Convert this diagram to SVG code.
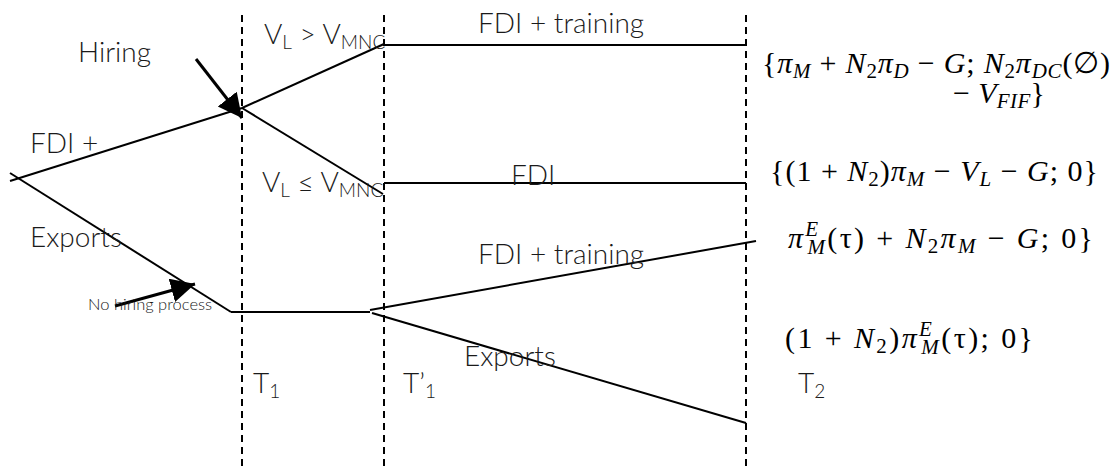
<svg xmlns="http://www.w3.org/2000/svg" width="1116" height="471" viewBox="0 0 1116 471">
<style>
.bg{fill:#ffffff}
.dash{stroke:#000;stroke-width:2;stroke-dasharray:7 5;fill:none}
.ln{stroke:#000;stroke-width:2;fill:none}
.arr{stroke:#000;stroke-width:3;fill:none}
.lbl{font-family:Lato,"Open Sans","Liberation Sans",sans-serif;font-weight:300;font-size:28px;fill:#1a1a1a}
.sm{font-size:16.5px}
.sub{font-size:19px}
.math{font-family:"Liberation Serif","DejaVu Serif",serif;font-size:30px;fill:#000}
.it{font-style:italic}
.ms{font-size:21px;font-style:italic}
.up{font-style:normal}
</style>
<defs>
<marker id="ah" markerUnits="userSpaceOnUse" markerWidth="26" markerHeight="26" refX="24" refY="12" orient="auto" viewBox="0 0 26 26">
<path d="M0,0 L24,12 L0,24 Z" fill="#000"/>
</marker>
</defs>
<rect class="bg" x="0" y="0" width="1116" height="471"/>
<g id="time-lines">
<line class="dash" x1="242" y1="15" x2="242" y2="468"/>
<line class="dash" x1="384" y1="15" x2="384" y2="468"/>
<line class="dash" x1="746" y1="15" x2="746" y2="468"/>
</g>
<g id="connectors">
<line class="ln" x1="10" y1="181" x2="242" y2="108"/>
<line class="ln" x1="10" y1="173" x2="231" y2="312"/>
<line class="ln" x1="242" y1="108" x2="384" y2="44"/>
<line class="ln" x1="384" y1="45" x2="746" y2="45"/>
<line class="ln" x1="242" y1="108" x2="383" y2="194"/>
<line class="ln" x1="384" y1="183" x2="746" y2="183"/>
<line class="ln" x1="231" y1="312" x2="370" y2="312"/>
<line class="ln" x1="370" y1="310" x2="756" y2="241"/>
<line class="ln" x1="372" y1="313" x2="746" y2="423"/>
<line class="arr" x1="196" y1="59" x2="242" y2="118" marker-end="url(#ah)"/>
<line class="arr" x1="115" y1="306" x2="195" y2="284" marker-end="url(#ah)"/>
</g>
<g id="labels-left">
<text class="lbl" x="78" y="62">Hiring</text>
<text class="lbl" x="30" y="153">FDI +</text>
<text class="lbl" x="30" y="247">Exports</text>
<text class="lbl sm" x="88" y="310">No hiring process</text>
</g>
<g id="labels-mid">
<text class="lbl" x="264" y="44">V<tspan class="sub" dy="5">L</tspan><tspan dy="-5"> &gt; V</tspan><tspan class="sub" dy="5">MNC</tspan></text>
<text class="lbl" x="262" y="192">V<tspan class="sub" dy="5">L</tspan><tspan dy="-5"> ≤ V</tspan><tspan class="sub" dy="5">MNC</tspan></text>
<text class="lbl" x="478" y="33">FDI + training</text>
<text class="lbl" x="511" y="185">FDI</text>
<text class="lbl" x="478" y="264">FDI + training</text>
<text class="lbl" x="464" y="366">Exports</text>
<text class="lbl" x="253" y="393">T<tspan class="sub" dy="5">1</tspan></text>
<text class="lbl" x="403" y="393">T’<tspan class="sub" dy="5">1</tspan></text>
<text class="lbl" x="798" y="393">T<tspan class="sub" dy="5">2</tspan></text>
</g>
<g id="payoffs">
<text class="math" x="762" y="73" textLength="348" lengthAdjust="spacing">{<tspan class="it">π</tspan><tspan class="ms" dy="5">M</tspan><tspan dy="-5"> + </tspan><tspan class="it">N</tspan><tspan class="ms up" dy="5">2</tspan><tspan class="it" dy="-5">π</tspan><tspan class="ms" dy="5">D</tspan><tspan dy="-5"> − </tspan><tspan class="it">G</tspan>;  <tspan class="it">N</tspan><tspan class="ms up" dy="5">2</tspan><tspan class="it" dy="-5">π</tspan><tspan class="ms" dy="5">DC</tspan><tspan dy="-5">(∅)</tspan></text>
<text class="math" x="953" y="103" textLength="92" lengthAdjust="spacing">− <tspan class="it">V</tspan><tspan class="ms" dy="5">FIF</tspan><tspan dy="-5">}</tspan></text>
<text class="math" x="770" y="181" textLength="328" lengthAdjust="spacing">{(1 + <tspan class="it">N</tspan><tspan class="ms up" dy="5">2</tspan><tspan dy="-5">)</tspan><tspan class="it">π</tspan><tspan class="ms" dy="5">M</tspan><tspan dy="-5"> − </tspan><tspan class="it">V</tspan><tspan class="ms" dy="5">L</tspan><tspan dy="-5"> − </tspan><tspan class="it">G</tspan>; 0}</text>
<text class="math" x="788" y="248" textLength="305" lengthAdjust="spacing"><tspan class="it">π</tspan><tspan class="ms" dy="-12">E</tspan><tspan class="ms" dx="-13" dy="18">M</tspan><tspan dy="-6">(τ) + </tspan><tspan class="it">N</tspan><tspan class="ms up" dy="5">2</tspan><tspan class="it" dy="-5">π</tspan><tspan class="ms" dy="5">M</tspan><tspan dy="-5"> − </tspan><tspan class="it">G</tspan>;  0}</text>
<text class="math" x="785" y="348" textLength="248" lengthAdjust="spacing">(1 + <tspan class="it">N</tspan><tspan class="ms up" dy="5">2</tspan><tspan dy="-5">)</tspan><tspan class="it">π</tspan><tspan class="ms" dy="-12">E</tspan><tspan class="ms" dx="-13" dy="18">M</tspan><tspan dy="-6">(τ);  0}</tspan></text>
</g>
</svg>
